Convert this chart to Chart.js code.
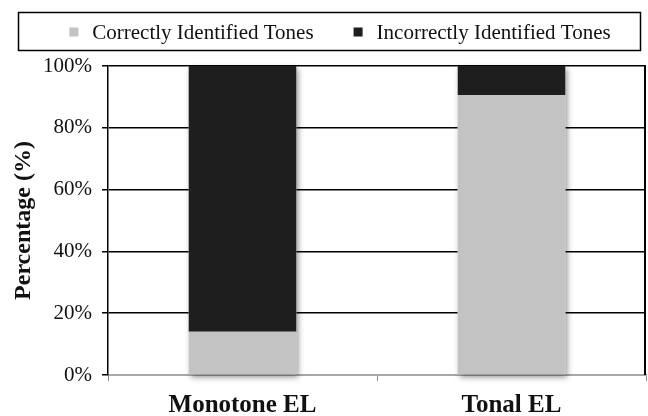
<!DOCTYPE html>
<html>
<head>
<meta charset="utf-8">
<script src="https://cdn.jsdelivr.net/npm/chart.js@4"></script>
<style>
  html, body { margin: 0; padding: 0; background: #fff; }
  #wrap { width: 648px; height: 416px; position: relative; }
</style>
</head>
<body>
<div id="wrap"><canvas id="c" width="648" height="416"></canvas></div>
<script>
const categories = ['Monotone EL', 'Tonal EL'];
const seriesNames = ['Correctly Identified Tones', 'Incorrectly Identified Tones'];
const correctPct = [14, 90.6];
const incorrectPct = [86, 9.4];
const yTicks = [0, 20, 40, 60, 80, 100];

const SERIF = '"Liberation Serif", "Times New Roman", serif';
const LIGHT = '#c3c3c3';
const DARK = '#1e1e1e';

// Boxed legend across the top, drawn from the dataset labels and colours
const boxedLegend = {
  id: 'boxedLegend',
  afterDraw(chart) {
    const ctx = chart.ctx;
    ctx.save();
    ctx.strokeStyle = '#000';
    ctx.lineWidth = 1.5;
    ctx.strokeRect(18.5, 12.5, 622, 38);
    ctx.font = '21px ' + SERIF;
    ctx.textBaseline = 'middle';
    const sq = 9, gapText = 14, gapItem = 40;
    const items = chart.data.datasets.map(d => ({ label: d.label, color: d.backgroundColor, w: sq + gapText + ctx.measureText(d.label).width }));
    const total = items.reduce((s, it) => s + it.w, 0) + gapItem * (items.length - 1);
    let x = 18 + (622 - total) / 2 + 11;
    const cy = 32;
    items.forEach(it => {
      ctx.fillStyle = it.color;
      ctx.fillRect(x, cy - sq / 2, sq, sq);
      ctx.fillStyle = '#111';
      ctx.fillText(it.label, x + sq + gapText, cy + 1);
      x += it.w + gapItem;
    });
    ctx.restore();
  }
};

// Soft shadow under each full stacked column, plus the right frame line
const columnShadow = {
  id: 'columnShadow',
  beforeDatasetsDraw(chart) {
    const ctx = chart.ctx;
    const metas = chart.data.datasets.map((_, i) => chart.getDatasetMeta(i));
    ctx.save();
    ctx.shadowColor = 'rgba(0,0,0,0.45)';
    ctx.shadowBlur = 6;
    ctx.shadowOffsetX = 2;
    ctx.shadowOffsetY = 3;
    ctx.fillStyle = '#fff';
    categories.forEach((_, j) => {
      const els = metas.map(m => m.data[j]);
      const top = Math.min(...els.map(e => Math.min(e.y, e.base)));
      const bottom = Math.max(...els.map(e => Math.max(e.y, e.base)));
      const e0 = els[0];
      ctx.fillRect(e0.x - e0.width / 2, top, e0.width, bottom - top);
    });
    ctx.restore();
  },
  afterDraw(chart) {
    const { ctx, chartArea } = chart;
    ctx.save();
    ctx.strokeStyle = '#000';
    ctx.lineWidth = 2;
    ctx.beginPath();
    ctx.moveTo(Math.round(chartArea.right) - 1, chartArea.top);
    ctx.lineTo(Math.round(chartArea.right) - 1, chartArea.bottom);
    ctx.stroke();
    ctx.restore();
  }
};

new Chart(document.getElementById('c'), {
  type: 'bar',
  data: {
    labels: categories,
    datasets: [
      { label: seriesNames[0], data: correctPct, backgroundColor: LIGHT, borderWidth: 0 },
      { label: seriesNames[1], data: incorrectPct, backgroundColor: DARK, borderWidth: 0 }
    ]
  },
  options: {
    responsive: false,
    animation: false,
    devicePixelRatio: 1,
    layout: { padding: { top: 66, right: 2, bottom: 0, left: 0 } },
    plugins: {
      legend: { display: false },
      tooltip: { enabled: false }
    },
    datasets: { bar: { categoryPercentage: 0.8, barPercentage: 0.5 } },
    scales: {
      x: {
        stacked: true,
        afterFit(s) { s.height = 41; },
        border: { color: '#a8a8a8', width: 2 },
        grid: { drawOnChartArea: false, drawTicks: true, tickLength: 6, color: '#888', offset: true },
        ticks: { color: '#111', padding: 10, font: { family: SERIF, size: 25, weight: 'bold' } }
      },
      y: {
        stacked: true,
        min: 0,
        max: 100,
        afterFit(s) { s.width = 108; },
        afterBuildTicks(s) { s.ticks = yTicks.map(v => ({ value: v })); },
        border: { color: '#000', width: 1.5 },
        grid: {
          color: ctx => (ctx.tick && ctx.tick.value === 0 ? 'rgba(0,0,0,0)' : '#000'),
          lineWidth: 1.5,
          tickColor: '#000',
          tickLength: 6
        },
        ticks: {
          color: '#111',
          padding: 10,
          font: { family: SERIF, size: 21 },
          callback: v => v + '%'
        },
        title: {
          display: true,
          text: 'Percentage (%)',
          color: '#111',
          padding: { top: 9, bottom: 0 },
          font: { family: SERIF, size: 24, weight: 'bold' }
        }
      }
    }
  },
  plugins: [columnShadow, boxedLegend]
});
</script>
</body>
</html>
